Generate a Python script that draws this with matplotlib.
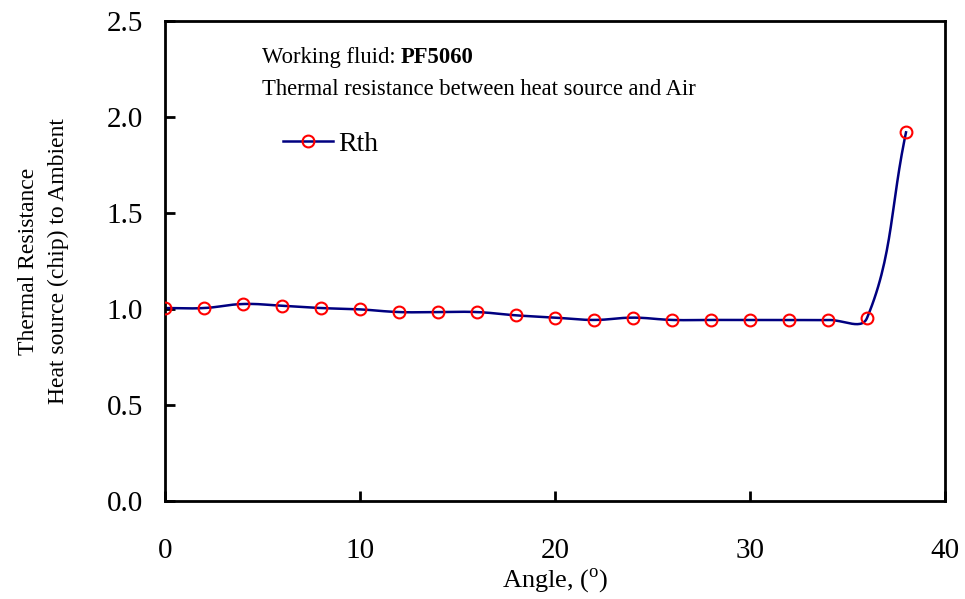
import numpy as np
import matplotlib
matplotlib.use("Agg")
import matplotlib.pyplot as plt

plt.rcParams['font.family'] = ['Liberation Serif', 'DejaVu Serif']
plt.rcParams['mathtext.fontset'] = 'custom'
plt.rcParams['mathtext.rm'] = 'Liberation Serif'

angle = [0, 2, 4, 6, 8, 10, 12, 14, 16, 18, 20, 22, 24, 26, 28, 30, 32, 34, 36, 38]
rth = [1.005, 1.005, 1.026, 1.017, 1.005, 0.998, 0.984, 0.984, 0.984, 0.967,
       0.955, 0.943, 0.955, 0.943, 0.943, 0.943, 0.943, 0.943, 0.953, 1.92]
x_ticks = [0, 10, 20, 30, 40]
y_ticks = [0.0, 0.5, 1.0, 1.5, 2.0, 2.5]

W, H = 965, 599
fig = plt.figure(figsize=(W / 100, H / 100), dpi=100)
ax = fig.add_axes([165 / W, (H - 501) / H, 780 / W, 480 / H])
ax.set_xlim(0, 40)
ax.set_ylim(0, 2.5)


def smooth_line(xs, ys, f=0.4, steps=30):
    # excel-like smoothed line: bezier segments built in pixel space
    P = ax.transData.transform(np.column_stack([xs, ys]))
    n = len(P)
    d = np.hypot(*np.diff(P, axis=0).T)
    out = [P[0]]
    t = np.linspace(0, 1, steps)[1:, None]
    for i in range(n - 1):
        p0, p3 = P[i], P[i + 1]
        prev = P[i - 1] if i > 0 else P[i]
        dprev = d[i - 1] if i > 0 else 0.0
        nxt = P[i + 2] if i + 2 < n else P[i + 1]
        dnext = d[i + 1] if i + 2 < n else 0.0
        c1 = p0 + (p3 - prev) * f * d[i] / (dprev + d[i])
        c2 = p3 - (nxt - p0) * f * d[i] / (d[i] + dnext)
        seg = ((1 - t) ** 3) * p0 + 3 * ((1 - t) ** 2) * t * c1 + 3 * (1 - t) * t ** 2 * c2 + t ** 3 * p3
        out.extend(seg)
    return ax.transData.inverted().transform(np.array(out))


curve = smooth_line(angle, rth)
ax.plot(curve[:, 0], curve[:, 1], color='#000080', lw=1.8, zorder=2)
ax.plot(angle, rth, ls='none', marker='o', ms=8.5, mfc='none', mec='red', mew=1.5, zorder=3)

# legend built from a proxy line with marker
ax.plot([], [], color='#000080', lw=1.8, marker='o', ms=8.5, mfc='none', mec='red', mew=1.5, label='Rth')
ax.legend(loc='center left', bbox_to_anchor=(0.137, 0.743), frameon=False, fontsize=20,
          handlelength=1.8, handletextpad=0.2, borderaxespad=0)

ax.set_xticks(x_ticks)
ax.set_yticks(y_ticks)
ax.set_yticklabels([f"{v:.1f}" for v in y_ticks])
ax.tick_params(direction='in', length=7, width=2, labelsize=21, top=False, right=False)
ax.tick_params(axis='x', pad=27)
ax.tick_params(axis='y', pad=16)
for s in ax.spines.values():
    s.set_linewidth(2)

ax.set_xlabel("Angle, ($^\\mathregular{o}$)", fontsize=19, labelpad=1)
ax.set_ylabel("Thermal Resistance\nHeat source (chip) to Ambient", fontsize=17, labelpad=27, linespacing=1.55)

t1 = ax.text(0.124, 0.923, "Working fluid: ", transform=ax.transAxes, fontsize=16.3, va='center')
ax.annotate("PF5060", xy=(1, 0.5), xycoords=t1, va='center', fontsize=16.3, fontweight='bold')
ax.text(0.124, 0.858, "Thermal resistance between heat source and Air", transform=ax.transAxes,
        fontsize=16.3, va='center')

fig.savefig("out.png", dpi=100)
